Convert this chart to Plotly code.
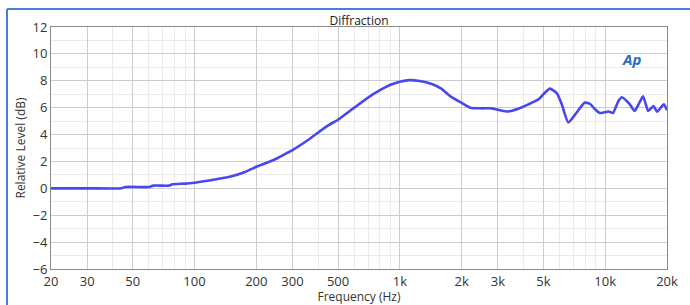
import plotly.graph_objects as go

freq_hz = [20, 30, 44, 46, 60, 63, 75, 78, 90, 100, 120, 150, 175, 200, 225, 250, 280, 300,
           350, 400, 450, 500, 600, 700, 800, 900, 1000, 1110, 1250, 1420, 1590, 1780, 2000,
           2200, 2500, 2800, 3000, 3370, 3770, 4230, 4740, 5000, 5375, 5800, 6130, 6610, 7230,
           7930, 8390, 8980, 9400, 10400, 10900, 11600, 12050, 13100, 13900, 14600, 15300,
           16200, 17200, 17900, 19300, 20000]
level_db = [0.0, 0.0, 0.0, 0.1, 0.1, 0.2, 0.2, 0.3, 0.35, 0.42, 0.6, 0.88, 1.2, 1.6, 1.9, 2.2, 2.6, 2.85,
            3.5, 4.15, 4.7, 5.1, 6.0, 6.75, 7.3, 7.7, 7.92, 8.05, 7.98, 7.78, 7.42, 6.8, 6.35,
            6.0, 5.95, 5.95, 5.85, 5.72, 5.92, 6.25, 6.62, 7.0, 7.42, 7.1, 6.3, 4.9, 5.6,
            6.37, 6.3, 5.85, 5.6, 5.72, 5.6, 6.5, 6.78, 6.3, 5.75, 6.3, 6.85,
            5.75, 6.12, 5.7, 6.25, 5.8]

x_tick_vals = [20, 30, 50, 100, 200, 300, 500, 1000, 2000, 3000, 5000, 10000, 20000]
x_tick_text = ["20", "30", "50", "100", "200", "300", "500", "1k", "2k", "3k", "5k", "10k", "20k"]
x_minor_vals = [40, 60, 70, 80, 90, 400, 600, 700, 800, 900, 4000, 6000, 7000, 8000, 9000]
y_tick_vals = [-6, -4, -2, 0, 2, 4, 6, 8, 10, 12]
y_minor_vals = [-5, -3, -1, 1, 3, 5, 7, 9, 11]

FONT = "Open Sans, Noto Sans, sans-serif"

fig = go.Figure()
fig.add_trace(go.Scatter(
    x=freq_hz, y=level_db, mode="lines",
    line=dict(color="rgb(72,72,240)", width=2.6, shape="spline", smoothing=0.5),
    hoverinfo="skip", showlegend=False,
))

fig.update_layout(
    width=690, height=305,
    margin=dict(l=51, r=23, t=27, b=36),
    paper_bgcolor="white", plot_bgcolor="white",
    font=dict(family=FONT, size=13, color="#333333"),
    title=dict(text="Diffraction", x=0.5, xref="paper", y=1, yref="paper",
               yanchor="bottom", pad=dict(b=2),
               font=dict(family=FONT, size=12, color="#222222")),
    xaxis=dict(
        type="log", range=[1.30103, 4.30103],
        tickmode="array", tickvals=x_tick_vals, ticktext=x_tick_text,
        showgrid=True, gridcolor="#cdcdcd", gridwidth=1,
        showline=True, linecolor="#8a8a8a", linewidth=1, mirror=True,
        ticks="", ticklen=0, zeroline=False, automargin=False,
        minor=dict(tickmode="array", tickvals=x_minor_vals, showgrid=True,
                   gridcolor="#ebebeb", gridwidth=1, ticks=""),
        title=dict(text="Frequency (Hz)", standoff=0,
                   font=dict(family=FONT, size=12, color="#333333")),
        tickfont=dict(family=FONT, size=13, color="#333333"),
    ),
    yaxis=dict(
        range=[-6, 12],
        tickmode="array", tickvals=y_tick_vals,
        showgrid=True, gridcolor="#cdcdcd", gridwidth=1,
        showline=True, linecolor="#8a8a8a", linewidth=1, mirror=True,
        ticks="", ticklen=0, zeroline=False, automargin=False,
        minor=dict(tickmode="array", tickvals=y_minor_vals, showgrid=True,
                   gridcolor="#ebebeb", gridwidth=1, ticks=""),
        title=dict(text="Relative Level (dB)", standoff=4,
                   font=dict(family=FONT, size=12, color="#333333")),
        tickfont=dict(family=FONT, size=13, color="#333333"),
    ),
)

# outer blue frame (top and left edges)
fig.add_shape(type="line", xref="paper", yref="paper",
              x0=-44 / 616, x1=639 / 616, y0=1 + 18 / 242, y1=1 + 18 / 242,
              line=dict(color="#4a7fd0", width=2))
fig.add_shape(type="line", xref="paper", yref="paper",
              x0=-44 / 616, x1=-44 / 616, y0=1 + 18 / 242, y1=-36 / 242,
              line=dict(color="#4a7fd0", width=2))

# AP logo approximation
fig.add_annotation(text="<b><i>Ap</i></b>", xref="paper", yref="paper",
                   x=(643 - 51) / 616, y=(269 - 47) / 242, showarrow=False,
                   font=dict(family=FONT, size=15, color="#2a6db8"))

fig.write_html("out.html", config={"displayModeBar": False},
               post_script="document.body.style.margin='0';")
